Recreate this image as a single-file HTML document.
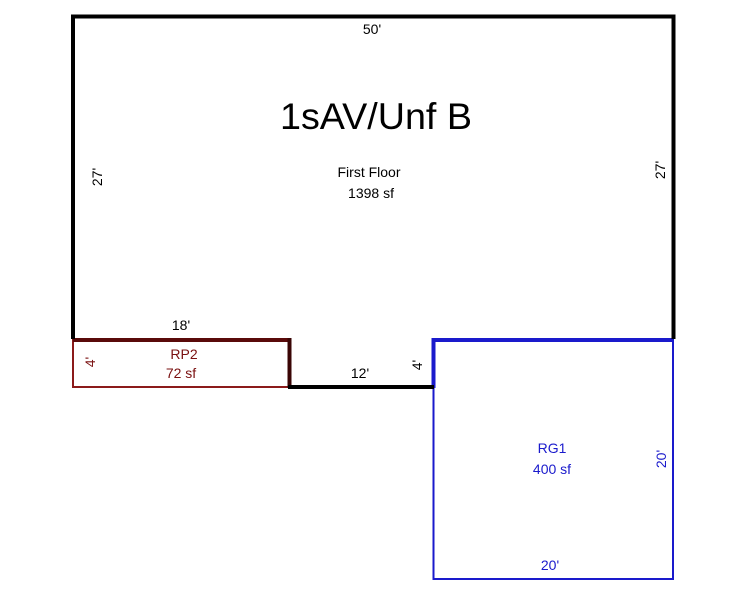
<!DOCTYPE html>
<html><head><meta charset="utf-8"><style>
html,body{margin:0;padding:0;background:#fff;width:746px;height:595px;overflow:hidden}
text{font-family:"Liberation Sans",Arial,sans-serif}
</style></head><body>
<svg width="746" height="595" viewBox="0 0 746 595" xmlns="http://www.w3.org/2000/svg">
<!-- RG1 -->
<rect x="433.5" y="340" width="239.5" height="239" fill="none" stroke="#1a1acc" stroke-width="2"/>
<line x1="433" y1="340" x2="673" y2="340" stroke="#1a1acc" stroke-width="4"/>
<line x1="433.5" y1="338" x2="433.5" y2="388" stroke="#1a1acc" stroke-width="4"/>
<!-- RP2 -->
<rect x="73" y="340" width="216" height="47" fill="none" stroke="#8b1a1a" stroke-width="2"/>
<line x1="73" y1="340" x2="290" y2="340" stroke="#5a0a0a" stroke-width="4"/>
<line x1="289.5" y1="338" x2="289.5" y2="388" stroke="#3a0505" stroke-width="4"/>
<!-- main -->
<polyline points="73,339 73,16.5 673.5,16.5 673.5,339" fill="none" stroke="#000" stroke-width="4"/>
<line x1="288" y1="387" x2="434" y2="387" stroke="#000" stroke-width="4"/>
<g font-size="14" fill="#000" text-anchor="middle">
<text x="372" y="34">50'</text>
<text x="376" y="129" font-size="37" textLength="192" lengthAdjust="spacingAndGlyphs">1sAV/Unf B</text>
<text x="369" y="177">First Floor</text>
<text x="371" y="198">1398 sf</text>
<text transform="translate(102,177) rotate(-90)">27'</text>
<text transform="translate(665,170) rotate(-90)">27'</text>
<text x="181" y="330">18'</text>
<text x="360" y="378">12'</text>
<text transform="translate(422,365) rotate(-90)">4'</text>
</g>
<g font-size="14" fill="#7a1010" text-anchor="middle">
<text x="184" y="359">RP2</text>
<text x="181" y="378">72 sf</text>
<text transform="translate(95,362) rotate(-90)">4'</text>
</g>
<g font-size="14" fill="#1a1acc" text-anchor="middle">
<text x="552" y="453">RG1</text>
<text x="552" y="474">400 sf</text>
<text transform="translate(666,459) rotate(-90)">20'</text>
<text x="550" y="570">20'</text>
</g>
</svg>
</body></html>
